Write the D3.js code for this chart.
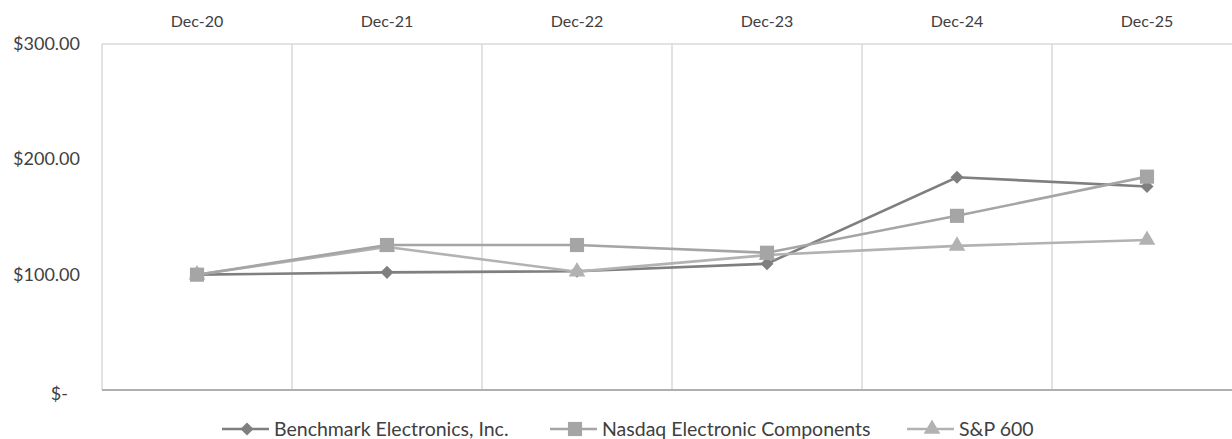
<!DOCTYPE html>
<html>
<head>
<meta charset="utf-8">
<script src="https://cdn.jsdelivr.net/npm/d3@7"></script>
<style>
  body { margin: 0; background: #fff; }
  text { font-family: Lato, "Open Sans", sans-serif; fill: #404040; }
</style>
</head>
<body>
<div id="chart"></div>
<script>
const periods = ["Dec-20", "Dec-21", "Dec-22", "Dec-23", "Dec-24", "Dec-25"];
const benchmark = [100, 102, 103, 109.5, 184.5, 176.5];
const nasdaq = [100, 125.7, 125.7, 119, 151, 185];
const sp600 = [100, 124, 102.6, 117, 125, 130];
const yTicks = [0, 100, 200, 300];

const series = [
    { name: "Benchmark Electronics, Inc.", values: benchmark, color: "#7f7f7f", marker: "diamond" },
    { name: "S&P 600", values: sp600, color: "#b2b2b2", marker: "triangle" },
    { name: "Nasdaq Electronic Components", values: nasdaq, color: "#a5a5a5", marker: "square" }
];
const legendOrder = [0, 2, 1];

const width = 1232;
const height = 439;
const margin = { top: 44, left: 102, bottom: 49 };

const svg = d3.select("#chart")
    .append("svg")
    .attr("width", width)
    .attr("height", height);

const xScale = d3.scaleBand()
    .domain(periods)
    .range([margin.left, margin.left + 190 * periods.length]);

const yScale = d3.scaleLinear()
    .domain([0, 300])
    .range([height - margin.bottom, margin.top]);

// diamond = square turned 45 degrees
const symbols = {
    diamond: { d: d3.symbol().type(d3.symbolSquare).size(85)(), rotate: 45 },
    square: { d: d3.symbol().type(d3.symbolSquare).size(200)(), rotate: 0 },
    triangle: { d: d3.symbol().type(d3.symbolTriangle).size(120)(), rotate: 0 }
};

// Grid
svg.append("line")
    .attr("x1", margin.left).attr("x2", width)
    .attr("y1", yScale(300)).attr("y2", yScale(300))
    .attr("stroke", "#d9d9d9").attr("stroke-width", 1.5);

svg.append("g")
    .selectAll("line")
    .data(periods)
    .enter()
    .append("line")
    .attr("x1", d => xScale(d)).attr("x2", d => xScale(d))
    .attr("y1", yScale(300)).attr("y2", yScale(0))
    .attr("stroke", "#d9d9d9").attr("stroke-width", 1.5);

svg.append("line")
    .attr("x1", margin.left).attr("x2", width)
    .attr("y1", yScale(0)).attr("y2", yScale(0))
    .attr("stroke", "#b0b0b0").attr("stroke-width", 2);

// Top x labels
svg.append("g")
    .selectAll("text")
    .data(periods)
    .enter()
    .append("text")
    .attr("x", d => xScale(d) + xScale.bandwidth() / 2)
    .attr("y", 27)
    .attr("text-anchor", "middle")
    .style("font-size", "16px")
    .text(d => d);

// Y labels
svg.append("g")
    .selectAll("text")
    .data(yTicks)
    .enter()
    .append("text")
    .attr("x", d => d === 0 ? 68 : 80)
    .attr("y", d => yScale(d) + (d === 0 ? 10 : 6))
    .attr("text-anchor", "end")
    .style("font-size", "18px")
    .text(d => d === 0 ? "$-" : "$" + d3.format(".2f")(d));

const xPos = (d, i) => xScale(periods[i]) + xScale.bandwidth() / 2;
const line = d3.line()
    .x(xPos)
    .y(d => yScale(d));

series.forEach(s => {
    svg.append("path")
        .datum(s.values)
        .attr("fill", "none")
        .attr("stroke", s.color)
        .attr("stroke-width", 2.6)
        .attr("d", line);

    svg.append("g")
        .selectAll("path")
        .data(s.values)
        .enter()
        .append("path")
        .attr("transform", (d, i) => `translate(${xPos(d, i)},${yScale(d)}) rotate(${symbols[s.marker].rotate})`)
        .attr("d", symbols[s.marker].d)
        .attr("fill", s.color);
});

// Legend
const legendX = [222, 550, 907];
const legend = svg.append("g");
legendOrder.forEach((k, i) => {
    const s = series[k];
    const g = legend.append("g").attr("transform", `translate(${legendX[i]},429)`);
    g.append("line")
        .attr("x1", 0).attr("x2", 47)
        .attr("stroke", s.color).attr("stroke-width", 2.6);
    g.append("path")
        .attr("transform", `translate(25,0) rotate(${symbols[s.marker].rotate})`)
        .attr("d", symbols[s.marker].d)
        .attr("fill", s.color);
    g.append("text")
        .attr("x", 52)
        .attr("y", 7)
        .style("font-size", "19.5px")
        .text(s.name);
});
</script>
</body>
</html>
